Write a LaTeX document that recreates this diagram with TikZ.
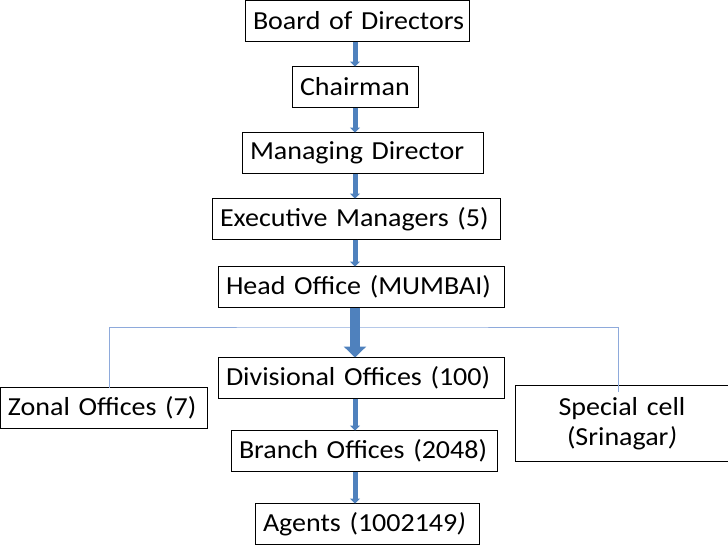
\documentclass[tikz,border=0pt]{standalone}
\usepackage{fontspec}
\setmainfont{Carlito}[FakeStretch=1.077]
\usepackage{xcolor}
\usetikzlibrary{arrows.meta,positioning}
\definecolor{arrowblue}{HTML}{4F81BD}
\definecolor{lineblue}{HTML}{8EAADB}

\begin{document}
\begin{tikzpicture}[
    x=1pt, y=1pt,
    font=\fontsize{26}{30}\selectfont,
    box/.style={rectangle, draw, line width=1pt, outer sep=0pt, inner xsep=8pt, inner ysep=0pt, minimum height=41pt, align=left},
    arrow/.style={-{Triangle[width=10pt,length=5pt]}, line width=5pt, arrowblue},
    bigarrow/.style={-{Triangle[width=22pt,length=11pt]}, line width=10pt, arrowblue},
    link/.style={lineblue, line width=0.8pt}
]
    \useasboundingbox (0,0) rectangle (728,-546);

    \node[box, text width=208pt] (board) at (357,-21) {\mbox{Board of Directors}};
    \node[box, text width=110pt, below=25pt of board, xshift=-2pt] (chair) {\mbox{Chairman}};
    \node[box, text width=225pt, below=25pt of chair, xshift=7.5pt] (md) {\mbox{Managing Director}};
    \node[box, text width=272pt, below=25pt of md, xshift=-6.5pt] (exec) {\mbox{Executive Managers (5)}};
    \node[box, text width=270pt, below=27pt of exec, xshift=5pt] (head) {\mbox{Head Office (MUMBAI)}};
    \node[box, text width=270pt, below=50pt of head] (div) {\mbox{Divisional Offices (100)}};
    \node[box, text width=250pt, below=32pt of div, xshift=3pt] (branch) {\mbox{Branch Offices (2048)}};
    \node[box, text width=208pt, below=32pt of branch, xshift=3pt] (agents) {\mbox{Agents (1002149\textit{)}}};
    \node[box, text width=191pt, left=11pt of div, yshift=-30pt] (zonal) {\mbox{Zonal Offices (7)}};
    \node[box, text width=198pt, minimum height=76pt, align=center, right=11pt of div, yshift=-45.5pt] (special) {Special cell\\(Srinagar\textit{)}};

    % side branches
    \coordinate (bus) at ([yshift=-19.5pt]head.south);
    \draw[link] ([xshift=5.5pt]zonal.north) |- (bus) -| ([xshift=-3.5pt, yshift=-6pt]special.north);

    % chain of command
    \coordinate (axis) at (355,0);
    \draw[arrow] (board.south -| axis) -- (chair.north -| axis);
    \draw[arrow] (chair.south -| axis) -- (md.north -| axis);
    \draw[arrow] (md.south -| axis) -- (exec.north -| axis);
    \draw[arrow] (exec.south -| axis) -- (head.north -| axis);
    \draw[bigarrow] (head.south -| axis) -- (div.north -| axis);
    \draw[arrow] (div.south -| axis) -- (branch.north -| axis);
    \draw[arrow] (branch.south -| axis) -- (agents.north -| axis);
\end{tikzpicture}
\end{document}
